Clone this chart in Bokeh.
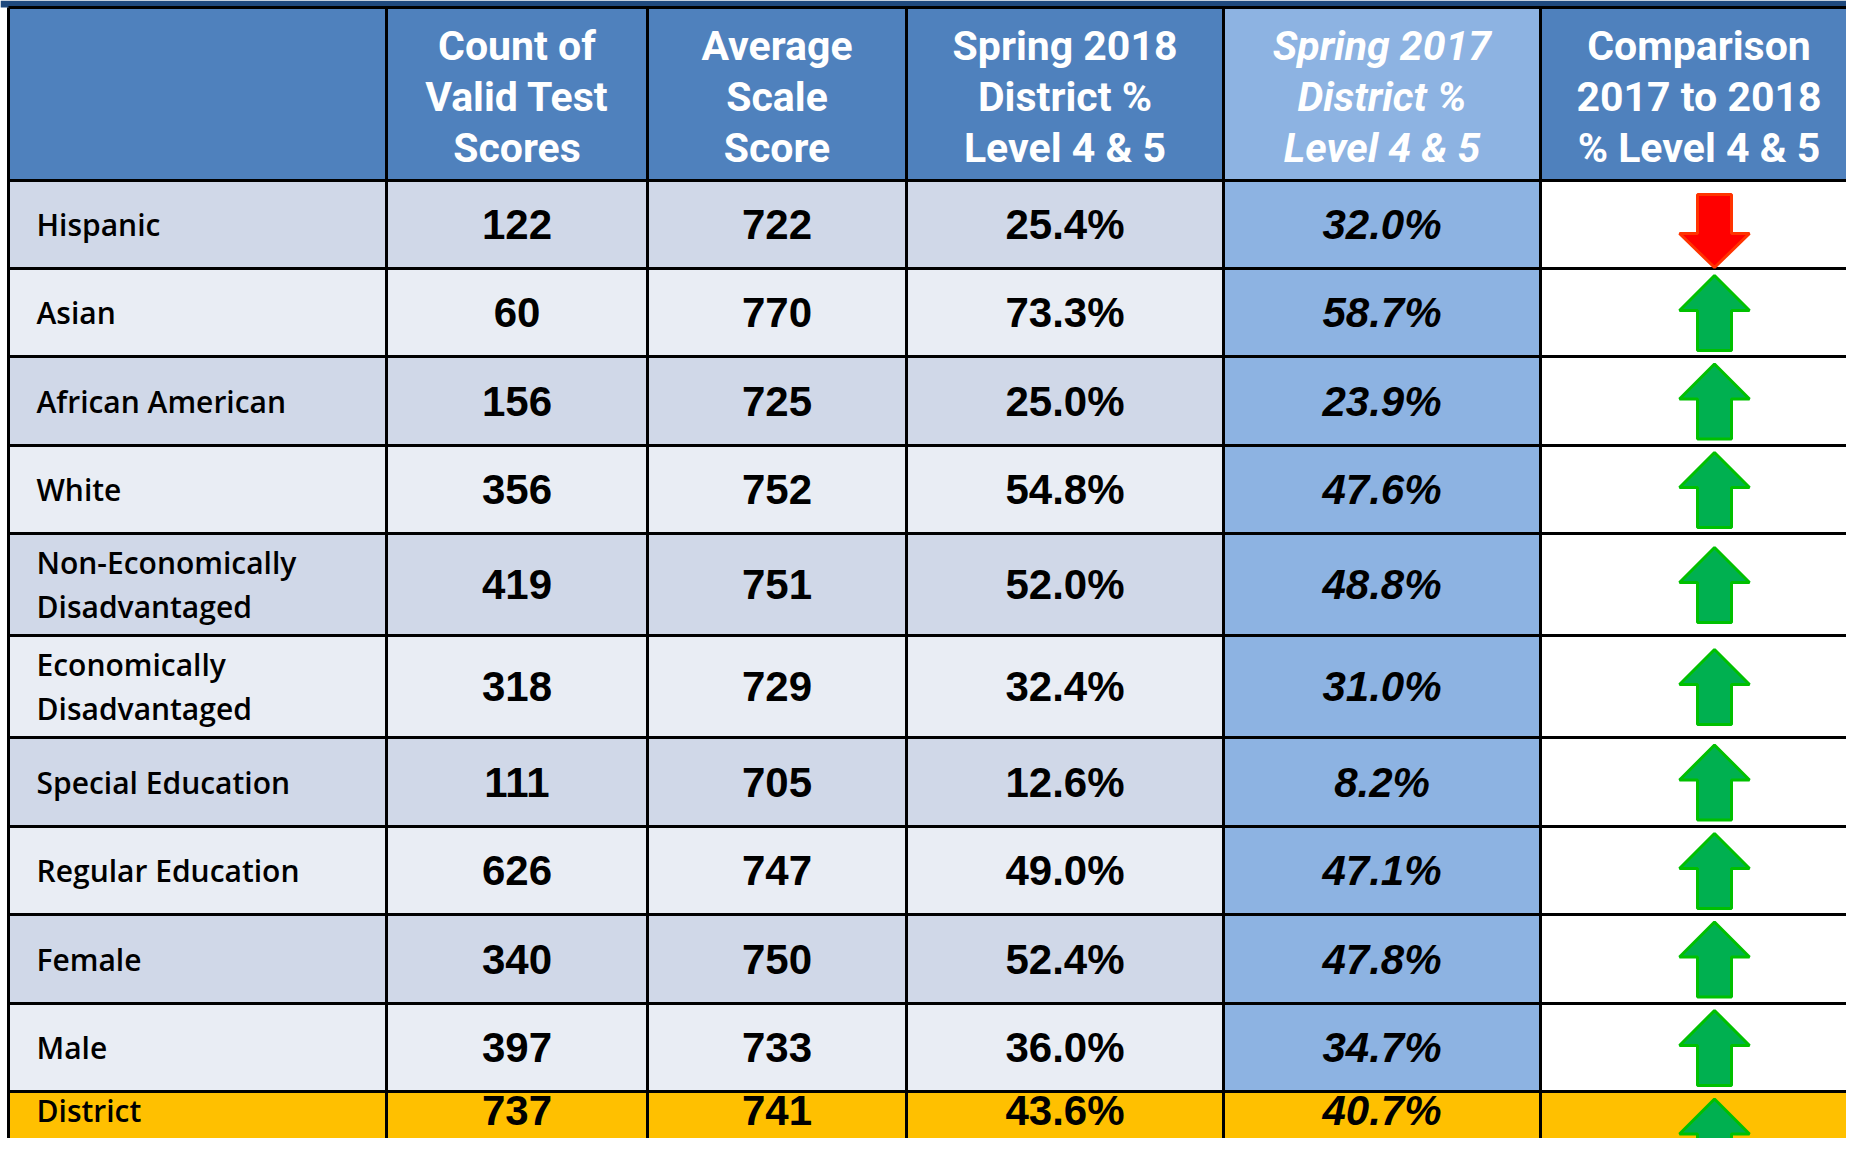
from bokeh.plotting import figure
from bokeh.models import Range1d, ColumnDataSource
from bokeh.core.properties import value
from bokeh.embed import file_html
from bokeh.resources import INLINE

# ---------------- data ----------------
headers = ["", "Count of\nValid Test\nScores", "Average\nScale\nScore",
           "Spring 2018\nDistrict %\nLevel 4 & 5", "Spring 2017\nDistrict %\nLevel 4 & 5",
           "Comparison\n2017 to 2018\n% Level 4 & 5"]
groups = ["Hispanic", "Asian", "African American", "White",
          "Non-Economically\nDisadvantaged", "Economically\nDisadvantaged",
          "Special Education", "Regular Education", "Female", "Male", "District"]
counts = [122, 60, 156, 356, 419, 318, 111, 626, 340, 397, 737]
avg_scores = [722, 770, 725, 752, 751, 729, 705, 747, 750, 733, 741]
pct_2018 = [25.4, 73.3, 25.0, 54.8, 52.0, 32.4, 12.6, 49.0, 52.4, 36.0, 43.6]
pct_2017 = [32.0, 58.7, 23.9, 47.6, 48.8, 31.0, 8.2, 47.1, 47.8, 34.7, 40.7]

# ---------------- layout ----------------
col_edges = [8, 386, 647, 906, 1223, 1540, 1857]
row_edges = [7, 180, 268, 356, 445, 533, 635, 737, 826, 914, 1003, 1091, 1180]
FIG_W, FIG_H = 1846, 1138

HEADER_BLUE = "#4F81BD"
HEADER_LIGHT = "#8DB3E2"
ROW_DARK = "#D0D8E8"
ROW_LIGHT = "#E9EDF4"
COL2017 = "#8DB3E2"
DISTRICT = "#FFC000"

p = figure(width=FIG_W, height=FIG_H, output_backend="svg", toolbar_location=None,
           x_range=Range1d(0, FIG_W), y_range=Range1d(FIG_H, 0),
           min_border=0, outline_line_color=None, background_fill_color="white",
           border_fill_color="white")
p.xaxis.visible = False
p.yaxis.visible = False
p.xgrid.visible = False
p.ygrid.visible = False

# top dark bar
p.quad(left=[0], right=[1862], top=[0], bottom=[7], fill_color="#1F497D", line_color=None)

# cells
L, R, T, B, C = [], [], [], [], []
ncols = len(col_edges) - 1
for j in range(ncols):
    L.append(col_edges[j]); R.append(col_edges[j + 1])
    T.append(row_edges[0]); B.append(row_edges[1])
    C.append(HEADER_LIGHT if j == 4 else HEADER_BLUE)
for i in range(len(groups)):
    for j in range(ncols):
        L.append(col_edges[j]); R.append(col_edges[j + 1])
        T.append(row_edges[i + 1]); B.append(row_edges[i + 2])
        if groups[i] == "District":
            c = DISTRICT
        elif j == 4:
            c = COL2017
        elif j == 5:
            c = "#FFFFFF"
        else:
            c = ROW_DARK if i % 2 == 0 else ROW_LIGHT
        C.append(c)
p.quad(left=L, right=R, top=T, bottom=B, fill_color=C, line_color=None)

# grid lines
hx0, hx1, hy = [], [], []
for y in row_edges[:-1]:
    hx0.append(col_edges[0]); hx1.append(col_edges[-1]); hy.append(y)
p.segment(x0=hx0, y0=hy, x1=hx1, y1=hy, line_color="black", line_width=3)
p.segment(x0=col_edges, y0=[row_edges[0]] * len(col_edges), x1=col_edges,
          y1=[row_edges[-1]] * len(col_edges), line_color="black", line_width=3)

# header texts
hcx = [(col_edges[j] + col_edges[j + 1]) / 2 for j in range(1, ncols)]
hcy = (row_edges[0] + row_edges[1]) / 2 + 3
for j in range(1, ncols):
    p.text(x=[hcx[j - 1]], y=[hcy], text=[headers[j]], text_color="white",
           text_font=value("Roboto"), text_font_size="41px",
           text_font_style="bold italic" if j == 4 else "bold",
           text_align="center", text_baseline="middle", text_line_height=1.06)

# rows
rcy = [(row_edges[i + 1] + row_edges[i + 2]) / 2 for i in range(len(groups))]
# keep the last (partly visible) row's texts inside the picture
tcy = [min(c, FIG_H - 28) for c in rcy]
src = ColumnDataSource(dict(
    y=tcy, label=groups,
    cnt=[str(v) for v in counts],
    avg=[str(v) for v in avg_scores],
    p18=["%.1f%%" % v for v in pct_2018],
    p17=["%.1f%%" % v for v in pct_2017],
))
p.text(x=36, y="y", text="label", source=src, text_color="black",
       text_font=value("Open Sans SemiBold, Open Sans"), text_font_size="30px",
       text_align="left", text_baseline="middle", text_line_height=1.07)
colc = [(col_edges[j] + col_edges[j + 1]) / 2 for j in range(ncols)]
for j, key in [(1, "cnt"), (2, "avg"), (3, "p18"), (4, "p17")]:
    p.text(x=colc[j], y="y", text=key, source=src, text_color="black",
           text_font=value("Liberation Sans"), text_font_size="42px",
           text_font_style="bold italic" if j == 4 else "bold",
           text_align="center", text_baseline="middle")

# arrows
acx = 1714
up_xs, up_ys, dn_xs, dn_ys = [], [], [], []
for i in range(len(groups)):
    cy = rcy[i]
    if pct_2018[i] >= pct_2017[i]:
        up_xs.append([acx, acx + 35, acx + 17, acx + 17, acx - 17, acx - 17, acx - 35])
        up_ys.append([cy - 37, cy - 2, cy - 2, cy + 38, cy + 38, cy - 2, cy - 2])
    else:
        dn_xs.append([acx, acx + 35, acx + 17, acx + 17, acx - 17, acx - 17, acx - 35])
        dn_ys.append([cy + 43, cy + 9, cy + 9, cy - 30, cy - 30, cy + 9, cy + 9])
p.patches(xs=up_xs, ys=up_ys, fill_color="#00B050", line_color="#00C000", line_width=3)
p.patches(xs=dn_xs, ys=dn_ys, fill_color="#FF0000", line_color="#FF3300", line_width=3)

open("out.html", "w").write(file_html(p, INLINE))
